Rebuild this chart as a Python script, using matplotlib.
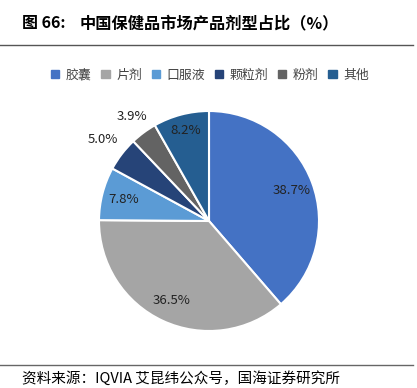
import numpy as np
import matplotlib.pyplot as plt
from matplotlib.lines import Line2D
from matplotlib.patches import Rectangle

plt.rcParams['font.family'] = ['Noto Sans CJK SC', 'DejaVu Sans']

# data
labels = ['胶囊', '片剂', '口服液', '颗粒剂', '粉剂', '其他']
shares = [38.7, 36.5, 7.8, 5.0, 3.9, 8.2]
colors = ['#4472C4', '#A5A5A5', '#5B9BD5', '#264478', '#636363', '#255E91']

W, H = 417, 388
fig = plt.figure(figsize=(W / 100, H / 100), dpi=100)

# pie axes, centre ~ (209, 221) px, radius ~110 px
cx, cy, r = 209, 221, 110
ax = fig.add_axes([(cx - r) / W, (H - cy - r) / H, 2 * r / W, 2 * r / H])
wedges, texts, autotexts = ax.pie(shares, colors=colors, startangle=90, counterclock=False,
                                  autopct='%.1f%%', pctdistance=0.8,
                                  wedgeprops=dict(edgecolor='white', linewidth=1.5),
                                  textprops=dict(fontsize=9.5, color='#222222'))
# small slices get their labels outside
for i, k in [(3, 1.52), (4, 1.48), (5, 1.06)]:
    x, y = autotexts[i].get_position()
    autotexts[i].set_position((x * k, y * k))
ax.set_xlim(-1, 1)
ax.set_ylim(-1, 1)
ax.set_aspect('auto')

# title
fig.text(22 / W, 1 - 23 / H, '图 66:', fontsize=11.5, fontweight='bold', va='center', ha='left')
fig.text(80 / W, 1 - 23 / H, '中国保健品市场产品剂型占比（%）', fontsize=11.7, fontweight='bold',
         va='center', ha='left')
fig.add_artist(Line2D([0, 413 / W], [1 - 45 / H, 1 - 45 / H], color='#555555', lw=1))

# legend row
handles = [Rectangle((0, 0), 1, 1, color=c) for c in colors]
fig.legend(handles, labels, loc='center', bbox_to_anchor=(210 / W, 1 - 75 / H), ncol=6,
           frameon=False, fontsize=9.3, handlelength=0.65, handleheight=0.65,
           handletextpad=0.5, columnspacing=0.75, labelcolor='#444444')

# source footer
fig.add_artist(Line2D([0, 413 / W], [1 - 365 / H, 1 - 365 / H], color='#666666', lw=1))
fig.text(22 / W, 1 - 378 / H, '资料来源：IQVIA 艾昆纬公众号，国海证券研究所', fontsize=10.5,
         va='center', ha='left')

fig.savefig('out.png', dpi=100)
